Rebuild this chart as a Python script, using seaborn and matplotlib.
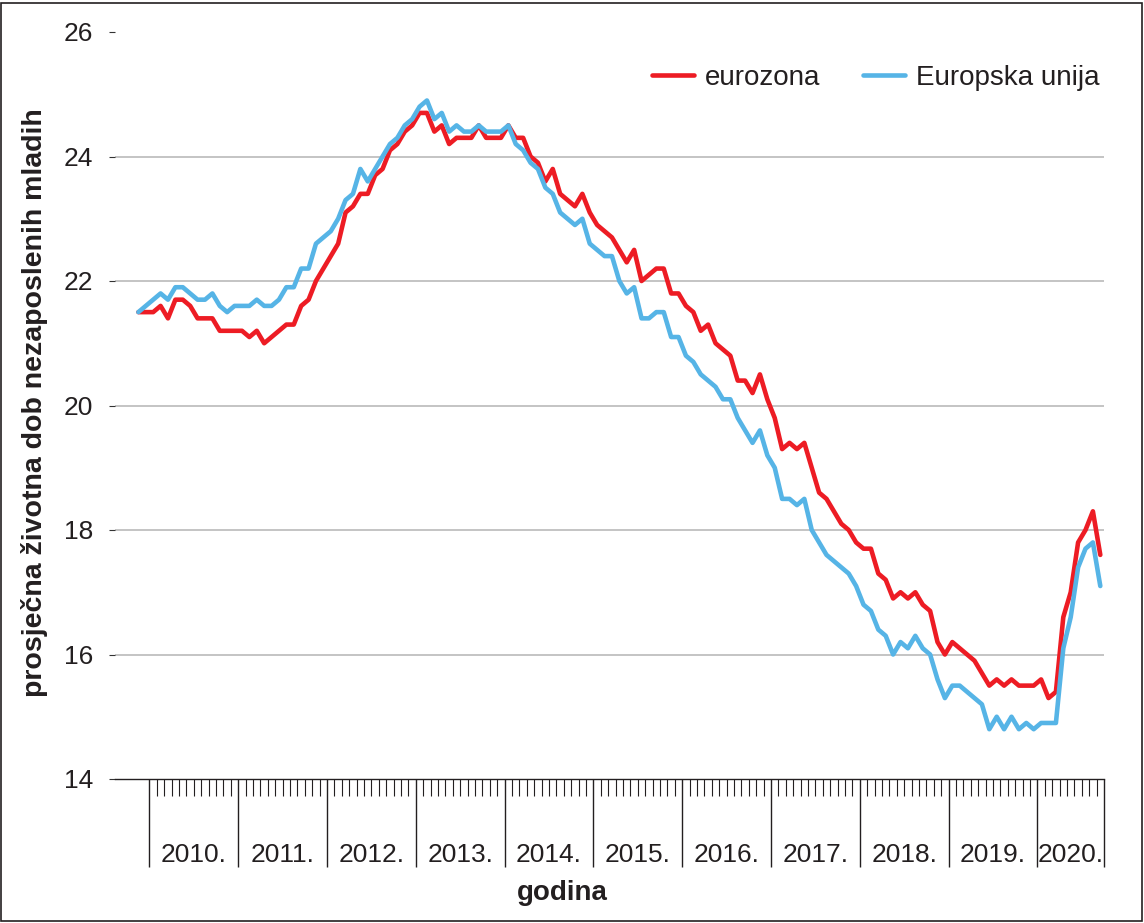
import numpy as np
import pandas as pd
import matplotlib
matplotlib.use("Agg")
import matplotlib.pyplot as plt
import matplotlib.transforms as mtransforms
from matplotlib.patches import Rectangle
from matplotlib.ticker import FixedLocator
import seaborn as sns

# monthly values, Nov 2009 - Sep 2020
eurozona = [
    21.5, 21.5, 21.5, 21.6, 21.4, 21.7, 21.7, 21.6, 21.4, 21.4, 21.4, 21.2, 21.2, 21.2, 21.2, 21.1, 21.2, 21.0, 21.1, 21.2, 21.3, 21.3,
    21.6, 21.7, 22.0, 22.2, 22.4, 22.6, 23.1, 23.2, 23.4, 23.4, 23.7, 23.8, 24.1, 24.2, 24.4, 24.5, 24.7, 24.7, 24.4, 24.5, 24.2, 24.3,
    24.3, 24.3, 24.5, 24.3, 24.3, 24.3, 24.5, 24.3, 24.3, 24.0, 23.9, 23.6, 23.8, 23.4, 23.3, 23.2, 23.4, 23.1, 22.9, 22.8, 22.7, 22.5,
    22.3, 22.5, 22.0, 22.1, 22.2, 22.2, 21.8, 21.8, 21.6, 21.5, 21.2, 21.3, 21.0, 20.9, 20.8, 20.4, 20.4, 20.2, 20.5, 20.1, 19.8,
    19.3, 19.4, 19.3, 19.4, 19.0, 18.6, 18.5, 18.3, 18.1, 18.0, 17.8, 17.7, 17.7, 17.3, 17.2, 16.9, 17.0, 16.9, 17.0, 16.8, 16.7, 16.2,
    16.0, 16.2, 16.1, 16.0, 15.9, 15.7, 15.5, 15.6, 15.5, 15.6, 15.5, 15.5, 15.5, 15.6, 15.3, 15.4, 16.6, 17.0, 17.8, 18.0, 18.3, 17.6,
]
europska_unija = [
    21.5, 21.6, 21.7, 21.8, 21.7, 21.9, 21.9, 21.8, 21.7, 21.7, 21.8, 21.6, 21.5, 21.6, 21.6, 21.6, 21.7, 21.6, 21.6, 21.7, 21.9, 21.9,
    22.2, 22.2, 22.6, 22.7, 22.8, 23.0, 23.3, 23.4, 23.8, 23.6, 23.8, 24.0, 24.2, 24.3, 24.5, 24.6, 24.8, 24.9, 24.6, 24.7, 24.4, 24.5,
    24.4, 24.4, 24.5, 24.4, 24.4, 24.4, 24.5, 24.2, 24.1, 23.9, 23.8, 23.5, 23.4, 23.1, 23.0, 22.9, 23.0, 22.6, 22.5, 22.4, 22.4, 22.0,
    21.8, 21.9, 21.4, 21.4, 21.5, 21.5, 21.1, 21.1, 20.8, 20.7, 20.5, 20.4, 20.3, 20.1, 20.1, 19.8, 19.6, 19.4, 19.6, 19.2, 19.0,
    18.5, 18.5, 18.4, 18.5, 18.0, 17.8, 17.6, 17.5, 17.4, 17.3, 17.1, 16.8, 16.7, 16.4, 16.3, 16.0, 16.2, 16.1, 16.3, 16.1, 16.0, 15.6,
    15.3, 15.5, 15.5, 15.4, 15.3, 15.2, 14.8, 15.0, 14.8, 15.0, 14.8, 14.9, 14.8, 14.9, 14.9, 14.9, 16.1, 16.6, 17.4, 17.7, 17.8, 17.1,
]
years = ["2010.", "2011.", "2012.", "2013.", "2014.", "2015.", "2016.", "2017.", "2018.", "2019.", "2020."]
series_names = ["eurozona", "Europska unija"]

# month position: Jan 2010 spans [0, 1]; first value is Nov 2009
months = np.arange(len(eurozona)) - 2 + 0.5
df = pd.concat([
    pd.DataFrame({"mjesec": months, "vrijednost": eurozona, "serija": series_names[0]}),
    pd.DataFrame({"mjesec": months, "vrijednost": europska_unija, "serija": series_names[1]}),
])

sns.set_theme(style="white")
plt.rcParams["font.family"] = ["Liberation Sans", "DejaVu Sans"]
ink = "#231F20"

fig = plt.figure(figsize=(11.44, 9.23), dpi=100)
ax = fig.add_axes([115 / 1144, 1 - 779 / 923, (1104 - 115) / 1144, (779 - 32) / 923])

sns.lineplot(
    data=df, x="mjesec", y="vrijednost", hue="serija",
    palette={"eurozona": "#ED1C24", "Europska unija": "#56B4E6"},
    linewidth=3.3, ax=ax,
)

x_end = 12 * (len(years) - 1) + 9
ax.set_xlim(-4.66, x_end)
ax.set_ylim(14, 26)

# y axis
ax.set_yticks(range(14, 27, 2))
ax.tick_params(axis="y", length=4, width=0.8, color="#333333", labelsize=19, pad=12,
               left=True, labelcolor=ink)
for yv in range(16, 26, 2):
    ax.axhline(yv, color="#BFBFBF", linewidth=1.3, zorder=0)

# x axis: months as minor ticks, years as long major ticks
year_edges = [12 * i for i in range(len(years))] + [x_end]
ax.xaxis.set_major_locator(FixedLocator(year_edges))
ax.xaxis.set_minor_locator(FixedLocator([m for m in range(1, x_end) if m % 12 != 0]))
ax.set_xticklabels([""] * len(year_edges))
ax.tick_params(axis="x", which="major", length=63, width=1.0, color=ink, bottom=True)
ax.tick_params(axis="x", which="minor", length=12.5, width=0.8, color=ink, bottom=True)

trans = mtransforms.blended_transform_factory(ax.transData, ax.transAxes)
for i, yr in enumerate(years):
    lo = year_edges[i]
    hi = year_edges[i + 1]
    ax.text((lo + hi) / 2, -0.102, yr, transform=trans, ha="center", va="center",
            fontsize=19, color=ink)

for side in ["top", "right", "left"]:
    ax.spines[side].set_visible(False)
ax.spines["bottom"].set_color(ink)
ax.spines["bottom"].set_linewidth(1.0)

ax.set_xlabel("")
ax.set_ylabel("")
fig.text(562 / 1144, 1 - 893 / 923, "godina", ha="center", va="center",
         fontsize=20, fontweight="bold", color=ink)
fig.text(35 / 1144, 1 - 403 / 923, "prosječna životna dob nezaposlenih mladih", rotation=90,
         ha="center", va="center", fontsize=20.5, fontweight="bold", color=ink)

leg = ax.legend(title=None, frameon=False, ncol=2, loc="center right",
                bbox_to_anchor=(1.021, (779 - 78) / 747), fontsize=20,
                handlelength=1.5, columnspacing=1.55, handletextpad=0.4)
for t in leg.get_texts():
    t.set_color(ink)

fig.add_artist(Rectangle((0.001, 0.002), 0.997, 0.995, transform=fig.transFigure,
                         fill=False, edgecolor=ink, linewidth=1.2))

fig.savefig("out.png", dpi=100)
